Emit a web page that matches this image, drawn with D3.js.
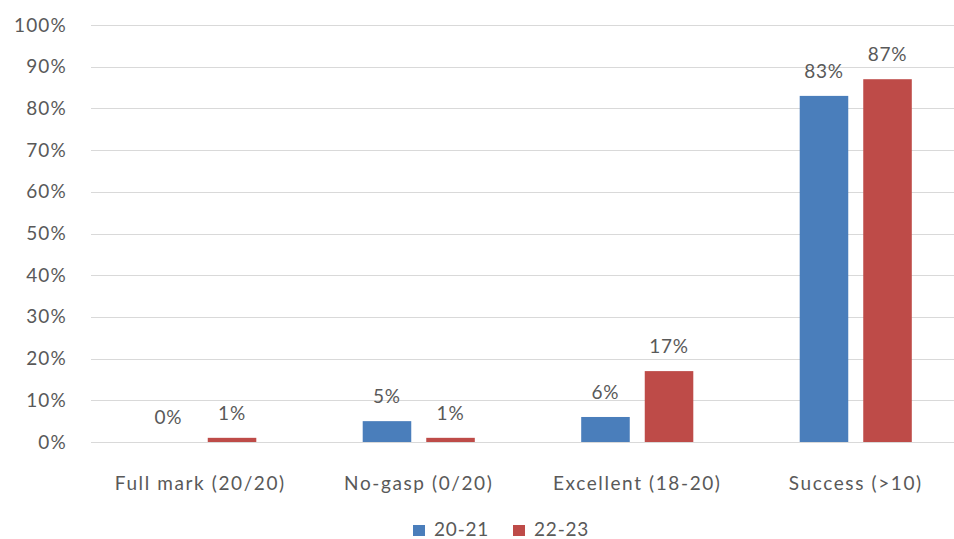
<!DOCTYPE html>
<html>
<head>
<meta charset="utf-8">
<script src="https://cdn.jsdelivr.net/npm/d3@7"></script>
<style>
  html, body { margin: 0; padding: 0; background: #fff; }
  svg text { font-family: Lato, "Open Sans", sans-serif; fill: #595959; letter-spacing: 0.8px; }
</style>
</head>
<body>
<div id="chart"></div>
<script>
// data
const categories = ['Full mark (20/20)', 'No-gasp (0/20)', 'Excellent (18-20)', 'Success (>10)'];
const seriesNames = ['20-21', '22-23'];
const values2021 = [0, 5, 6, 83];
const values2223 = [1, 1, 17, 87];
const yTicks = [0, 10, 20, 30, 40, 50, 60, 70, 80, 90, 100];
const colors = ['#4a7ebb', '#be4b48'];

const width = 954, height = 539;
const fontSize = '19px';
const svg = d3.select('#chart').append('svg')
    .attr('width', width)
    .attr('height', height);

// scales
const x0 = d3.scaleBand()
    .domain(categories)
    .range([91, 965])
    .paddingInner(0.487)
    .paddingOuter(0.2435);

const x1 = d3.scaleBand()
    .domain(seriesNames)
    .range([0, x0.bandwidth()])
    .paddingInner(0.236);

const y = d3.scaleLinear().domain([0, 100]).range([442, 25]);

// gridlines
svg.append('g')
    .selectAll('line')
    .data(yTicks)
    .join('line')
    .attr('x1', 91).attr('x2', 965)
    .attr('y1', d => Math.round(y(d)) + 0.5)
    .attr('y2', d => Math.round(y(d)) + 0.5)
    .attr('stroke', '#d9d9d9')
    .attr('stroke-width', 1);

// y axis labels
const yAxis = d3.axisLeft(y).tickValues(yTicks).tickFormat(d => d + '%').tickSize(0).tickPadding(0);
const yg = svg.append('g').attr('transform', 'translate(67,0)').call(yAxis);
yg.select('.domain').remove();
yg.selectAll('text')
    .style('font-size', fontSize)
    .style('font-family', 'Lato, sans-serif')
    .style('letter-spacing', '1.2px')
    .attr('fill', '#595959');

// bars
const rows = categories.map((c, i) => ({ cat: c, vals: [values2021[i], values2223[i]] }));
const groups = svg.append('g')
    .selectAll('g')
    .data(rows)
    .join('g')
    .attr('transform', d => `translate(${x0(d.cat)},0)`);

groups.selectAll('rect')
    .data(d => d.vals.map((v, j) => ({ key: seriesNames[j], v, j })))
    .join('rect')
    .attr('x', d => x1(d.key))
    .attr('width', x1.bandwidth())
    .attr('y', d => y(d.v))
    .attr('height', d => y(0) - y(d.v))
    .attr('fill', d => colors[d.j]);

// data labels
groups.selectAll('text.lbl')
    .data(d => d.vals.map((v, j) => ({ key: seriesNames[j], v, j })))
    .join('text')
    .attr('class', 'lbl')
    .attr('x', d => x1(d.key) + x1.bandwidth() / 2)
    .attr('y', d => y(d.v) - 18)
    .attr('text-anchor', 'middle')
    .style('font-size', fontSize)
    .text(d => d.v + '%');

// category labels
const xAxis = d3.axisBottom(x0).tickSize(0).tickPadding(0);
const xg = svg.append('g').attr('transform', 'translate(0,476)').call(xAxis);
xg.select('.domain').remove();
xg.selectAll('text')
    .style('font-size', fontSize)
    .style('font-family', 'Lato, sans-serif')
    .style('letter-spacing', '1.6px')
    .attr('fill', '#595959');

// legend
const legendX = [413, 513];
const legend = svg.append('g')
    .selectAll('g')
    .data(seriesNames)
    .join('g')
    .attr('transform', (d, i) => `translate(${legendX[i]},525)`);
legend.append('rect')
    .attr('width', 12).attr('height', 11)
    .attr('fill', (d, i) => colors[i]);
legend.append('text')
    .attr('x', 21).attr('y', 11)
    .style('font-size', fontSize)
    .text(d => d);
</script>
</body>
</html>
